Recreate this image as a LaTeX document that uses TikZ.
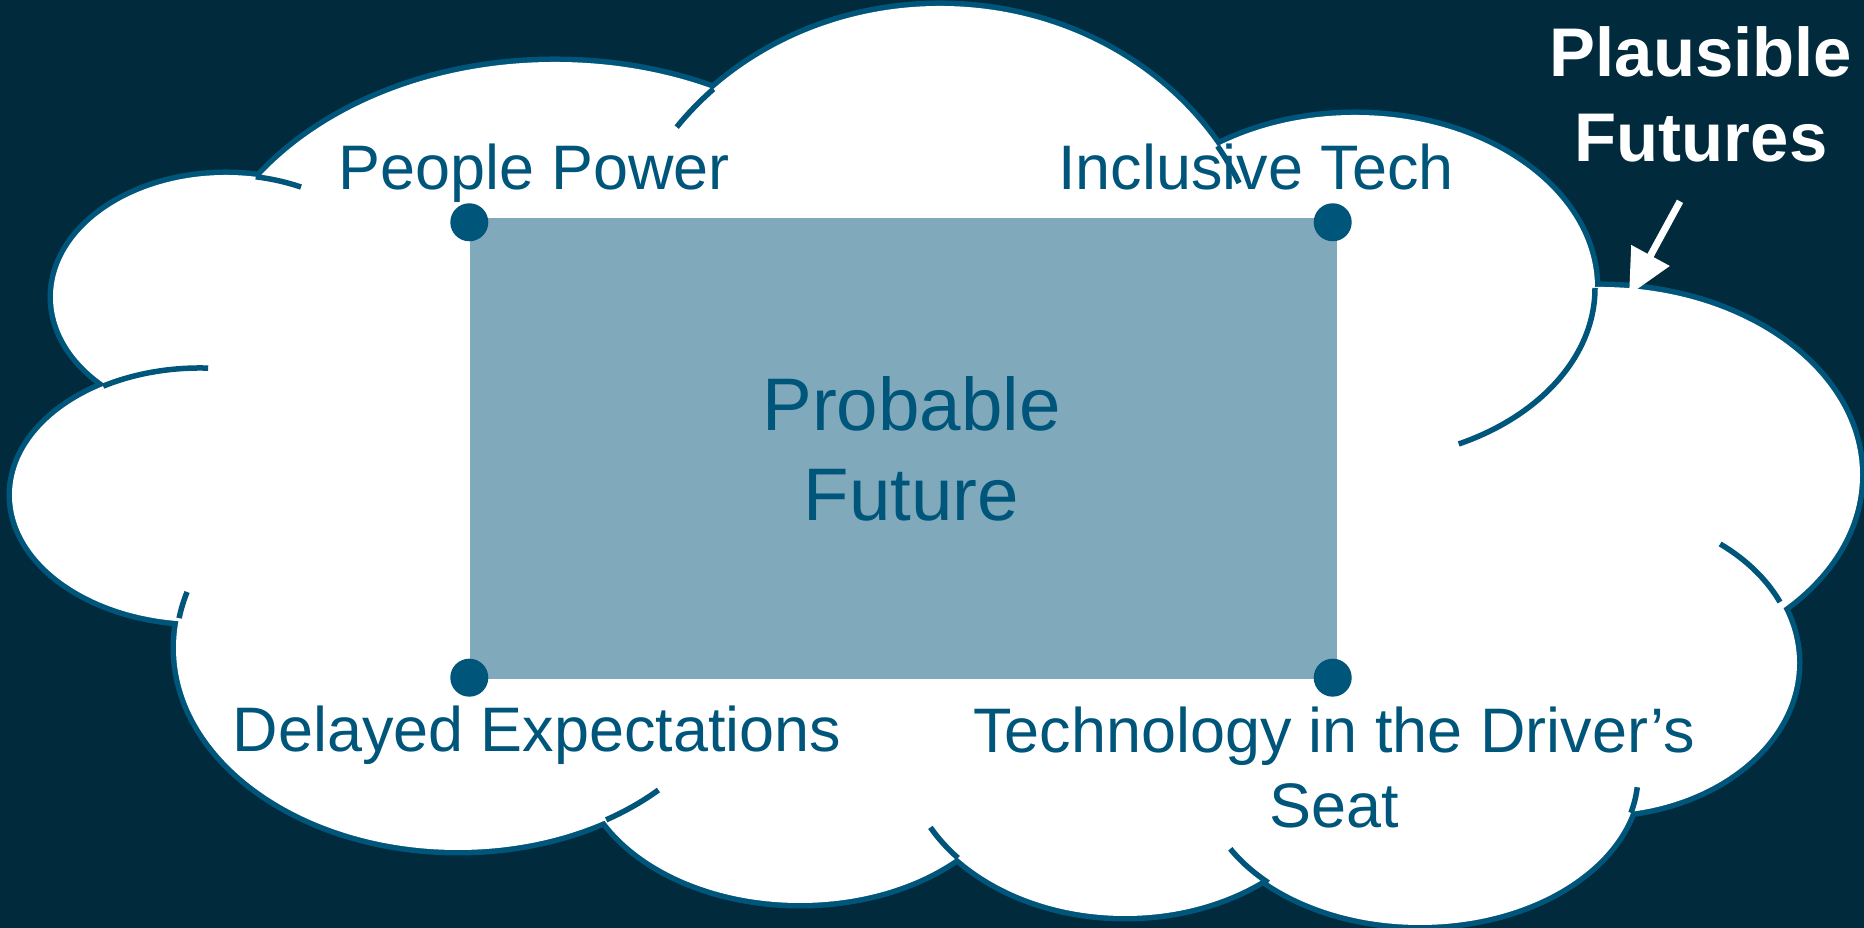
\documentclass[tikz,border=0pt]{standalone}
\usepackage{fontspec}
\setmainfont{Liberation Sans}
\usetikzlibrary{arrows.meta, positioning}
\definecolor{night}{HTML}{012A3C}
\definecolor{ink}{HTML}{00557A}
\definecolor{haze}{HTML}{80A9BC}

\begin{document}
\begin{tikzpicture}
	\tikzstyle{rim}=[draw=ink, line width=0.055cm]
	\tikzstyle{dot}=[circle, fill=ink, inner sep=0pt, minimum size=0.38cm]
	\tikzstyle{scenario}=[text=ink, inner sep=0pt, anchor=base, align=center, font=\fontsize{17.9}{21.6}\selectfont]
	\tikzstyle{pointer}=[-{Triangle[length=0.45cm, width=0.42cm]}, draw=white, line width=0.07cm]
	% cloud lobes: x/y/x radius/y radius
	\def\lobes{2.26/6.31/1.73/1.22, 2.00/4.33/1.88/1.27, 5.55/6.06/3.56/2.60, 9.40/6.22/3.28/3.00, 13.55/6.40/2.40/1.73, 16.00/4.53/2.60/1.88, 15.97/2.65/2.00/1.51, 14.20/1.53/2.18/1.50, 11.25/1.78/2.20/1.66, 8.00/1.75/2.19/1.50, 4.58/2.80/2.82/2.02}
	
	\useasboundingbox (0,0) rectangle (18.64,9.28);
	\fill[night] (0,0) rectangle (18.64,9.28);
	
	% cloud
	\foreach \x/\y/\a/\b in \lobes
		\draw[rim, line width=0.11cm, fill=white] (\x,\y) ellipse [x radius=\a, y radius=\b];
	\fill[white] (2.26,6.31) -- (5.55,6.06) -- (9.40,6.22) -- (13.55,6.40) -- (16.00,4.53) -- (15.97,2.65) -- (14.20,1.53) -- (11.25,1.78) -- (8.00,1.75) -- (4.58,2.80) -- (2.00,4.33) -- cycle;
	\foreach \x/\y/\a/\b in \lobes
		\fill[white] (\x,\y) ellipse [x radius=\a, y radius=\b];
	\foreach \x/\y/\a/\b/\s/\e in {2.26/6.31/1.73/1.22/80.1/64.3, 2.00/4.33/1.88/1.27/121/87.5, 4.58/2.80/2.82/2.02/171.5/163.9, 4.58/2.80/2.82/2.02/-58.3/-44.7, 11.25/1.78/2.20/1.66/220.6/207.8, 14.20/1.53/2.18/1.50/225.9/209.5, 14.20/1.53/2.18/1.50/-14.6/-4.7, 15.97/2.65/2.00/1.51/23.8/52, 13.55/6.40/2.40/1.73/0/-64.4, 9.40/6.22/3.28/3.00/32.2/24.2, 9.40/6.22/3.28/3.00/133.7/143.4}
		\draw[rim] (\x,\y) ++({\a*cos(\s)},{\b*sin(\s)}) arc[start angle=\s, end angle=\e, x radius=\a, y radius=\b];
	
	\node[fill=haze, minimum width=8.67cm, minimum height=4.61cm, inner sep=0pt, text=ink, align=center, font=\fontsize{21.2}{25.6}\selectfont] (probable) at (9.035,4.795) {\hspace{0.16cm}Probable\\\hspace{0.16cm}Future};
	
	\node[dot] (pp) at ([shift={(0,-0.05)}]probable.north west) {};
	\node[dot] (it) at ([shift={(-0.05,-0.05)}]probable.north east) {};
	\node[dot] (de) at ([shift={(0,0.02)}]probable.south west) {};
	\node[dot] (td) at ([shift={(-0.05,0.02)}]probable.south east) {};
	
	\node[scenario] (peoplepower) at (5.34,7.38) {People Power};
	\node[scenario] (inclusive) at (12.56,7.38) {Inclusive Tech};
	\node[scenario] (delayed) at (5.37,1.76) {Delayed Expectations};
	\node[scenario] (driver) at (13.34,1.00) {Technology in the Driver’s\\Seat};
	
	\node[text=white, inner sep=0pt, anchor=base, align=center, font=\bfseries\fontsize{19.6}{24.2}\selectfont] (plausible) at (17.01,7.66) {Plausible\\Futures};
	\coordinate (tip) at (16.29,6.33);
	\draw[pointer] ([shift={(-0.21,-0.38)}]plausible.south) -- (tip);
	
\end{tikzpicture}
\end{document}
